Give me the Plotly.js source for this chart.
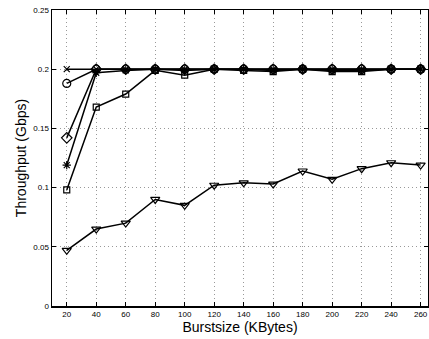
<!DOCTYPE html>
<html><head><meta charset="utf-8">
<script src="https://cdn.plot.ly/plotly-3.0.1.min.js"></script>
<style>html,body{margin:0;padding:0;background:#fff}#c{width:429px;height:339px}</style>
</head><body><div id="c"></div>
<script>
const burst = [20,40,60,80,100,120,140,160,180,200,220,240,260];
const sCross   = [0.200,0.200,0.200,0.200,0.200,0.200,0.200,0.200,0.200,0.200,0.200,0.200,0.200];
const sCircle  = [0.188,0.200,0.200,0.200,0.200,0.200,0.200,0.200,0.200,0.200,0.200,0.200,0.200];
const sDiamond = [0.142,0.200,0.200,0.200,0.200,0.200,0.200,0.200,0.200,0.200,0.200,0.200,0.200];
const sStar    = [0.119,0.197,0.199,0.200,0.199,0.200,0.200,0.199,0.200,0.199,0.199,0.200,0.200];
const sSquare  = [0.098,0.168,0.179,0.199,0.195,0.200,0.199,0.198,0.200,0.198,0.198,0.200,0.200];
const sTri     = [0.047,0.065,0.070,0.090,0.085,0.102,0.104,0.103,0.114,0.107,0.116,0.121,0.119];
const yTicks = [0,0.05,0.1,0.15,0.2,0.25];
const yLabels = ["0","0.05","0.1","0.15","0.2","0.25"];

function tr(y, sym, size){
  return {x: burst, y: y, type:'scatter', mode:'lines+markers',
    line:{color:'#000', width:1.5},
    marker:{symbol:sym, size:size, color:'#000', line:{color:'#000', width:1.2}}};
}
const data = [
  tr(sTri,'triangle-down-open',8),
  tr(sSquare,'square-open',6),
  tr(sStar,'asterisk-open',7),
  tr(sDiamond,'diamond-open',8),
  tr(sCircle,'circle-open',8),
  tr(sCross,'x-thin-open',6)
];
const axCommon = {showline:true, mirror:'ticks', linecolor:'#000', linewidth:1.5,
  ticks:'inside', ticklen:4, tickcolor:'#000', showgrid:true, gridcolor:'#999',
  griddash:'1px,3px', gridwidth:1, zeroline:false,
  tickfont:{family:'Liberation Sans, Arial, sans-serif', size:8, color:'#000'}};
const layout = {
  width:429, height:339, showlegend:false,
  paper_bgcolor:'#fff', plot_bgcolor:'#fff',
  margin:{l:52, r:1, t:10, b:33},
  xaxis: Object.assign({}, axCommon, {range:[10,265], tickvals:burst,
    title:{text:'Burstsize (KBytes)', standoff:2, font:{family:'Liberation Sans, Arial, sans-serif', size:14, color:'#000'}}}),
  yaxis: Object.assign({}, axCommon, {range:[0,0.25], tickvals:yTicks, ticktext:yLabels,
    title:{text:'Throughput (Gbps)', standoff:3, font:{family:'Liberation Sans, Arial, sans-serif', size:14, color:'#000'}}})
};
Plotly.newPlot('c', data, layout, {displayModeBar:false, staticPlot:true});
</script></body></html>
